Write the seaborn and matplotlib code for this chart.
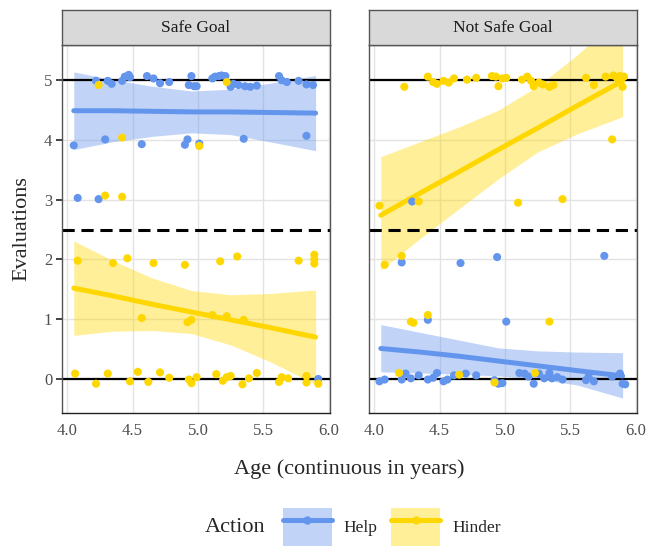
import numpy as np
import pandas as pd
import matplotlib
matplotlib.use("Agg")
import matplotlib.pyplot as plt
from matplotlib.lines import Line2D
from matplotlib.patches import Patch
import seaborn as sns

# --------------------------
# Data
# --------------------------
goals = ["Safe Goal", "Not Safe Goal"]
actions = ["Help", "Hinder"]

# Safe Goal - Help
safe_help_age = [4.22, 4.31, 4.34, 4.42, 4.44, 4.47, 4.48, 4.61, 4.66, 4.71, 4.78, 4.95,
                 4.93, 4.97, 4.99, 5.11, 5.13, 5.16, 5.18, 5.21, 5.25, 5.27, 5.31, 5.36,
                 5.40, 5.45, 5.62, 5.64, 5.68, 5.77, 5.83, 5.88,
                 4.05, 4.29, 4.57, 4.90, 4.92, 5.01, 5.35, 5.83, 4.08, 4.24, 5.92]
safe_help_eval = [4.99, 4.99, 4.94, 4.99, 5.06, 5.09, 5.05, 5.07, 5.03, 4.95, 4.97, 5.07,
                  4.92, 4.90, 4.90, 5.03, 5.06, 5.07, 5.08, 5.07, 4.89, 4.94, 4.92, 4.90,
                  4.89, 4.91, 5.07, 5.00, 4.97, 4.99, 4.93, 4.92,
                  3.91, 4.01, 3.93, 3.92, 4.01, 3.94, 4.02, 4.07, 3.03, 3.01, 0.00]

# Safe Goal - Hinder
safe_hinder_age = [4.24, 5.22, 4.42, 5.01, 4.29, 4.42,
                   4.08, 4.35, 4.46, 4.66, 4.90, 5.17, 5.30, 5.77, 5.89, 5.89, 5.89,
                   4.57, 4.92, 4.95, 5.11, 5.22, 5.35,
                   4.06, 4.22, 4.31, 4.48, 4.54, 4.62, 4.71, 4.78, 4.93, 4.95, 4.99, 5.14,
                   5.19, 5.22, 5.25, 5.34, 5.39, 5.45, 5.62, 5.64, 5.69, 5.83, 5.83, 5.92]
safe_hinder_eval = [4.92, 4.97, 4.04, 3.90, 3.07, 3.05,
                    1.98, 1.94, 2.02, 1.94, 1.91, 1.97, 2.05, 1.98, 2.08, 2.00, 1.93,
                    1.02, 0.95, 0.99, 1.07, 1.05, 0.99,
                    0.09, -0.08, 0.09, -0.04, 0.12, -0.05, 0.11, 0.02, -0.01, -0.07, 0.03, 0.08,
                    -0.03, 0.03, 0.05, -0.09, 0.01, 0.10, -0.05, 0.03, 0.01, 0.05, -0.06, -0.08]

# Not Safe Goal - Help
unsafe_help_age = [4.29, 4.21, 4.66, 4.94, 5.76, 4.41, 5.01,
                   4.04, 4.08, 4.21, 4.24, 4.28, 4.34, 4.41, 4.45, 4.48, 4.53, 4.56, 4.61,
                   4.70, 4.78, 4.92, 4.95, 4.98, 5.11, 5.15, 5.18, 5.22, 5.26, 5.30, 5.34,
                   5.36, 5.40, 5.44, 5.62, 5.64, 5.68, 5.82, 5.88, 5.90, 5.92]
unsafe_help_eval = [2.97, 1.95, 1.94, 2.04, 2.06, 0.99, 0.96,
                    -0.04, -0.01, -0.01, 0.09, 0.01, 0.06, -0.01, 0.02, 0.10, -0.04, -0.01, 0.06,
                    0.09, 0.06, -0.02, -0.08, -0.07, 0.10, 0.09, 0.04, -0.08, 0.09, 0.01, 0.10,
                    0.01, 0.03, -0.01, -0.02, 0.04, -0.04, 0.04, 0.09, -0.08, -0.09]

# Not Safe Goal - Hinder
unsafe_hinder_age = [4.23, 4.41, 4.45, 4.48, 4.53, 4.57, 4.61, 4.71, 4.78, 4.90, 4.93, 4.95,
                     4.98, 5.01, 5.13, 5.17, 5.20, 5.22, 5.26, 5.29, 5.34, 5.37, 5.62, 5.68,
                     5.77, 5.83, 5.86, 5.88, 5.91, 5.90,
                     5.82, 4.04, 4.34, 5.10, 5.44, 4.08, 4.21,
                     4.28, 4.30, 4.41, 5.34, 4.19, 4.65, 4.92, 5.23]
unsafe_hinder_eval = [4.89, 5.06, 4.97, 4.94, 4.99, 4.96, 5.03, 5.01, 5.04, 5.07, 5.06, 4.90,
                      5.03, 5.04, 5.01, 5.06, 4.99, 4.90, 4.96, 4.93, 4.89, 4.92, 5.04, 4.92,
                      5.06, 5.08, 5.03, 5.07, 5.06, 4.89,
                      4.01, 2.90, 2.97, 2.95, 3.01, 1.91, 2.06,
                      0.96, 0.94, 1.07, 0.96, 0.10, 0.07, -0.06, 0.10]

# Fitted lines and confidence bands
fit_age = [4.05, 4.35, 4.65, 4.95, 5.25, 5.55, 5.90]

safe_help_fit = [4.49, 4.49, 4.48, 4.47, 4.47, 4.46, 4.45]
safe_help_lo = [3.84, 3.97, 4.06, 4.12, 4.09, 3.97, 3.82]
safe_help_hi = [5.14, 5.01, 4.90, 4.82, 4.85, 4.95, 5.08]

safe_hinder_fit = [1.52, 1.39, 1.25, 1.12, 0.99, 0.86, 0.70]
safe_hinder_lo = [0.73, 0.80, 0.81, 0.76, 0.57, 0.29, -0.09]
safe_hinder_hi = [2.31, 1.98, 1.69, 1.48, 1.41, 1.43, 1.49]

unsafe_help_fit = [0.51, 0.45, 0.38, 0.30, 0.22, 0.14, 0.05]
unsafe_help_lo = [0.12, 0.10, 0.08, 0.05, 0.00, -0.10, -0.32]
unsafe_help_hi = [0.91, 0.78, 0.65, 0.52, 0.47, 0.45, 0.44]

unsafe_hinder_fit = [2.74, 3.11, 3.47, 3.84, 4.20, 4.57, 4.99]
unsafe_hinder_lo = [1.82, 2.35, 2.85, 3.35, 3.80, 4.10, 4.39]
unsafe_hinder_hi = [3.72, 3.97, 4.22, 4.50, 4.90, 5.42, 6.10]

x_ticks = [4.0, 4.5, 5.0, 5.5, 6.0]
y_ticks = [0, 1, 2, 3, 4, 5]

# --------------------------
# Build long tables
# --------------------------
def points(goal, action, age, ev):
    return pd.DataFrame({"Goal": goal, "Action": action, "Age": age, "Evaluation": ev})

df = pd.concat([
    points("Safe Goal", "Help", safe_help_age, safe_help_eval),
    points("Safe Goal", "Hinder", safe_hinder_age, safe_hinder_eval),
    points("Not Safe Goal", "Help", unsafe_help_age, unsafe_help_eval),
    points("Not Safe Goal", "Hinder", unsafe_hinder_age, unsafe_hinder_eval),
], ignore_index=True)

def fits(goal, action, fit, lo, hi):
    return pd.DataFrame({"Goal": goal, "Action": action, "Age": fit_age,
                         "Fit": fit, "Lo": lo, "Hi": hi})

fit_df = pd.concat([
    fits("Safe Goal", "Help", safe_help_fit, safe_help_lo, safe_help_hi),
    fits("Safe Goal", "Hinder", safe_hinder_fit, safe_hinder_lo, safe_hinder_hi),
    fits("Not Safe Goal", "Help", unsafe_help_fit, unsafe_help_lo, unsafe_help_hi),
    fits("Not Safe Goal", "Hinder", unsafe_hinder_fit, unsafe_hinder_lo, unsafe_hinder_hi),
], ignore_index=True)

# --------------------------
# Plot
# --------------------------
sns.set_style("white")
plt.rcParams["font.family"] = ["Liberation Serif", "DejaVu Serif"]

palette = {"Help": "#6495ED", "Hinder": "#FFD700"}
band_alpha = 0.4

W, H = 659, 546
fig = plt.figure(figsize=(W / 100, H / 100), dpi=100)

panel_x = [62, 369]
panel_w = 268
panel_bottom = 133
panel_h = 368
strip_h = 35

for i, goal in enumerate(goals):
    ax = fig.add_axes([panel_x[i] / W, panel_bottom / H, panel_w / W, panel_h / H])
    sub = df[df["Goal"] == goal]
    fsub = fit_df[fit_df["Goal"] == goal]

    # bands
    for action in actions:
        f = fsub[fsub["Action"] == action]
        ax.fill_between(f["Age"], f["Lo"], f["Hi"], color=palette[action],
                        alpha=band_alpha, lw=0, zorder=1)

    # reference lines
    ax.axhline(0, color="black", lw=1.6, zorder=2)
    ax.axhline(5, color="black", lw=1.6, zorder=2)
    ax.axhline(2.5, color="black", lw=2.2, ls=(0, (4, 2.2)), zorder=2)

    # fitted lines
    sns.lineplot(data=fsub, x="Age", y="Fit", hue="Action", palette=palette,
                 hue_order=actions, lw=3.6, legend=False, ax=ax, zorder=3)

    # points
    sns.scatterplot(data=sub, x="Age", y="Evaluation", hue="Action", palette=palette,
                    hue_order=actions, s=34, linewidth=0, legend=False, ax=ax, zorder=4)

    ax.set_xlim(3.96, 6.01)
    ax.set_ylim(-0.57, 5.59)
    ax.set_xticks(x_ticks)
    ax.set_xticklabels([f"{t:.1f}" for t in x_ticks])
    ax.set_yticks(y_ticks)
    ax.grid(True, color="#E3E3E3", lw=1.0, zorder=0)
    ax.set_axisbelow(True)
    ax.set_xlabel("")
    ax.set_ylabel("")
    for sp in ax.spines.values():
        sp.set_color("#555555")
        sp.set_linewidth(1.0)
    ax.spines["bottom"].set_color("#222222")
    ax.tick_params(axis="x", length=4, width=1.2, color="#222222", labelsize=12,
                   labelcolor="#4D4D4D", pad=3)
    if i == 0:
        ax.tick_params(axis="y", length=4, width=1.2, color="#222222", labelsize=12,
                       labelcolor="#4D4D4D", pad=3, left=True)
    else:
        ax.tick_params(axis="y", left=False, labelleft=False)

    # facet strip
    sax = fig.add_axes([panel_x[i] / W, (panel_bottom + panel_h) / H, panel_w / W, strip_h / H])
    sax.set_facecolor("#D9D9D9")
    sax.set_xticks([])
    sax.set_yticks([])
    for sp in sax.spines.values():
        sp.set_color("#555555")
        sp.set_linewidth(1.0)
    sax.text(0.5, 0.5, goal, ha="center", va="center", fontsize=12.5, color="#1A1A1A",
             transform=sax.transAxes)

# axis titles
fig.text((62 + 637) / 2 / W, 1 - 469 / H, "Age (continuous in years)", ha="center",
         va="center", fontsize=16)
fig.text(22 / W, 1 - 229 / H, "Evaluations", ha="center", va="center",
         rotation=90, fontsize=16)

# legend
handles = []
for action in actions:
    patch = Patch(facecolor=palette[action], alpha=band_alpha, edgecolor="none")
    line = Line2D([], [], color=palette[action], lw=3.6, marker="o", markersize=5)
    handles.append((patch, line))
fig.text(235 / W, 1 - 527 / H, "Action", ha="center", va="center", fontsize=16)
fig.legend(handles, actions, loc="center left", bbox_to_anchor=(276 / W, 1 - 527 / H),
           ncol=2, frameon=False, fontsize=12.5, handlelength=2.8, handleheight=3.0,
           handletextpad=0.7, columnspacing=0.8, borderaxespad=0)

fig.savefig("out.png", dpi=100)
